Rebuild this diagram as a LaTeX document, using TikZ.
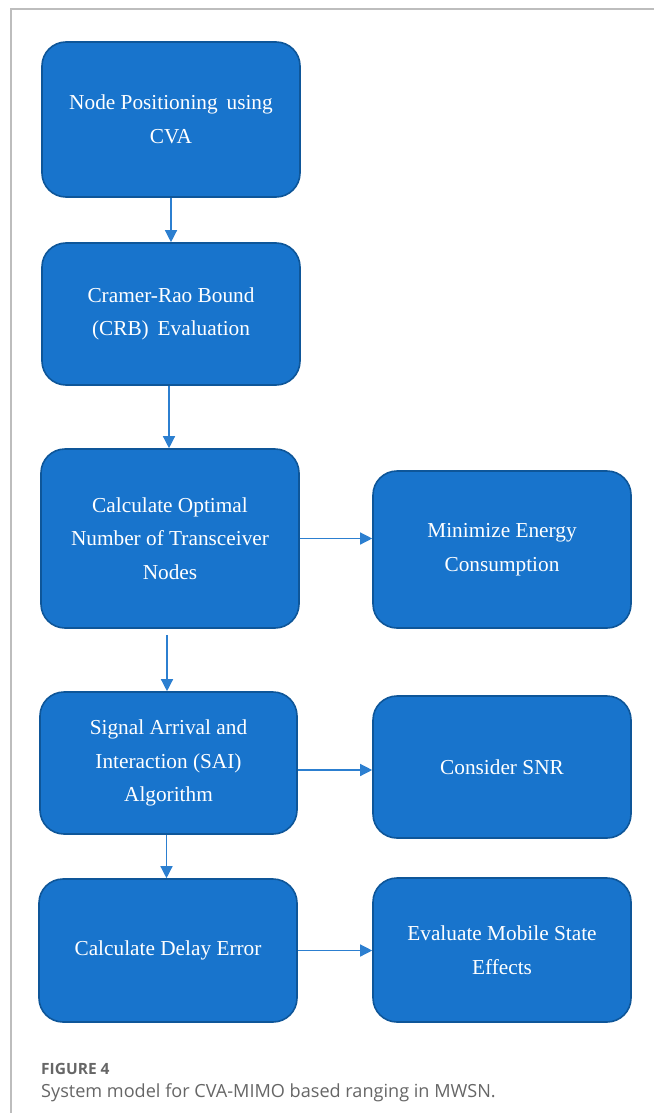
\documentclass[tikz,border=0pt]{standalone}
\usepackage{fontspec}
\setmainfont{Liberation Serif}
\newfontfamily\capfont{Open Sans}
\usetikzlibrary{arrows.meta,calc}
\definecolor{boxfill}{HTML}{1874CC}
\definecolor{boxline}{HTML}{0E5699}
\definecolor{arrcol}{HTML}{2C7FD0}
\definecolor{framecol}{HTML}{BDBDBD}
\definecolor{capgray}{HTML}{666666}
\tikzset{
  stepbox/.style={draw=boxline, fill=boxfill, line width=1.6pt, rounded corners=24pt,
    text=white, align=center, font=\fontsize{21.3}{33.5}\selectfont, inner sep=0pt},
  arr/.style={draw=arrcol, line width=1.3pt, -{Triangle[length=12pt,width=12pt]}},
}
\begin{document}
\begin{tikzpicture}[x=1pt,y=-1pt]
\useasboundingbox (0,0) rectangle (654,1113);
\draw[framecol, line width=1.3pt] (11,1113) -- (11,9) -- (654,9);

\node[stepbox, minimum width=258pt, minimum height=155pt] (n1) at (171,119.5) {Node Positioning\, using\\CVA};
\node[stepbox, minimum width=258pt, minimum height=142pt] (n2) at (171,314) {Cramer-Rao Bound\\(CRB)\, Evaluation};
\node[stepbox, minimum width=258pt, minimum height=179pt] (n3) at (170,538.5) {Calculate Optimal\\Number of Transceiver\\Nodes};
\node[stepbox, minimum width=258pt, minimum height=157pt] (n4) at (502,549.5) {Minimize Energy\\Consumption};
\node[stepbox, minimum width=257pt, minimum height=142pt] (n5) at (168.5,763) {Signal Arrival and\\Interaction (SAI)\\Algorithm};
\node[stepbox, minimum width=258pt, minimum height=142pt] (n6) at (502,767) {Consider SNR};
\node[stepbox, minimum width=258pt, minimum height=143pt] (n7) at (168,950.5) {Calculate Delay Error};
\node[stepbox, minimum width=258pt, minimum height=144pt] (n8) at (502,950) {Evaluate Mobile State\\Effects};

\draw[arr] (n1.south) -- (n1.south |- n2.north);
\draw[arr] ([xshift=-2pt]n2.south) -- ([xshift=-2pt]n2.south |- n3.north);
\draw[arr] ([xshift=-3pt,yshift=-6pt]n3.south) -- ([xshift=-3pt]n3.south |- n5.north);
\draw[arr] ([xshift=-2pt]n5.south) -- ([xshift=-2pt]n5.south |- n7.north);
\draw[arr] (n3.east) -- (n3.east -| n4.west);
\draw[arr] ([yshift=-3pt]n6.west -| n5.east) -- ([yshift=-3pt]n6.west);
\draw[arr] (n7.east) -- (n7.east -| n8.west);

\node[anchor=base west, inner sep=0pt, text=capgray, font=\capfont\bfseries\fontsize{15.5}{18}\selectfont] (cap1) at (41,1074) {FIGURE 4};
\node[anchor=base west, inner sep=0pt, text=capgray, font=\capfont\fontsize{18.1}{21}\selectfont] (cap2) at (41,1097) {System model for CVA-MIMO based ranging in MWSN.};
\end{tikzpicture}
\end{document}
